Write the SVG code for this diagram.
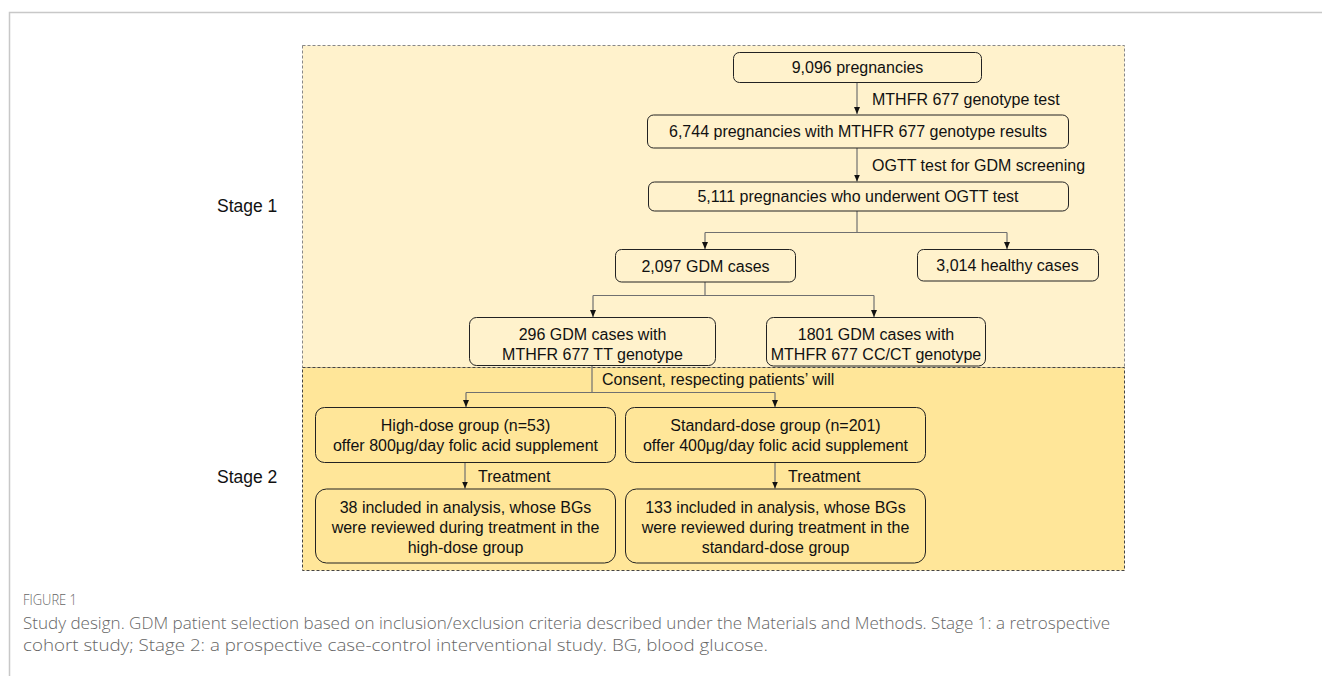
<svg xmlns="http://www.w3.org/2000/svg" width="1322" height="676" viewBox="0 0 1322 676">
<style>
.t{font-family:"Liberation Sans",Arial,sans-serif;font-size:16px;fill:#111;}
.c{text-anchor:middle;}
.lbl{font-family:"Liberation Sans",Arial,sans-serif;font-size:16px;fill:#111;}
.stage{font-family:"Liberation Sans",Arial,sans-serif;font-size:17.5px;fill:#111;}
.n1{fill:#fff2cc;stroke:#222;stroke-width:1;}
.n2{fill:#ffe699;stroke:#222;stroke-width:1;}
.ln{fill:none;stroke:#707070;stroke-width:1.2;}
.cap{font-family:"Open Sans",Lato,sans-serif;font-weight:300;fill:#666;}
</style>
<defs>
<marker id="ah" markerUnits="userSpaceOnUse" markerWidth="8" markerHeight="8" refX="7" refY="4" orient="auto">
<path d="M0,1 L7,4 L0,7 Z" fill="#111"/>
</marker>
</defs>
<rect width="1322" height="676" fill="#fff"/>
<path d="M9.5,676 V12.5 H1322" fill="none" stroke="#c8c8c8" stroke-width="1.5"/>
<g id="stage1-area">
<rect x="302.5" y="45.5" width="822" height="322" fill="#fff2cc" stroke="#888" stroke-width="1" stroke-dasharray="3,2"/>
</g>
<g id="stage2-area">
<rect x="302.5" y="367.5" width="822" height="203" fill="#ffe699" stroke="#444" stroke-width="1" stroke-dasharray="3,2"/>
</g>
<text class="stage" x="217" y="212">Stage 1</text>
<text class="stage" x="217" y="483">Stage 2</text>
<g id="connectors">
<path class="ln" d="M857,82 V114" marker-end="url(#ah)"/>
<path class="ln" d="M857,148 V181.5" marker-end="url(#ah)"/>
<path class="ln" d="M857,211 V232.5"/>
<path class="ln" d="M705,232.5 H1007"/>
<path class="ln" d="M705,232.5 V249" marker-end="url(#ah)"/>
<path class="ln" d="M1007,232.5 V249" marker-end="url(#ah)"/>
<path class="ln" d="M705,282 V295.5"/>
<path class="ln" d="M593,295.5 H874"/>
<path class="ln" d="M593,295.5 V317" marker-end="url(#ah)"/>
<path class="ln" d="M874,295.5 V317" marker-end="url(#ah)"/>
<path class="ln" d="M592,365 V392.5"/>
<path class="ln" d="M466,392.5 H775"/>
<path class="ln" d="M466,392.5 V407" marker-end="url(#ah)"/>
<path class="ln" d="M775,392.5 V407" marker-end="url(#ah)"/>
<path class="ln" d="M465,462 V488.5" marker-end="url(#ah)"/>
<path class="ln" d="M775,462 V488.5" marker-end="url(#ah)"/>
<text class="lbl" x="872" y="104.5">MTHFR 677 genotype test</text>
<text class="lbl" x="872" y="170.5">OGTT test for GDM screening</text>
<text class="lbl" x="602" y="385">Consent, respecting patients’ will</text>
<text class="lbl" x="478" y="482">Treatment</text>
<text class="lbl" x="788" y="482">Treatment</text>
</g>
<g id="n9096">
<rect class="n1" x="733.5" y="52.5" width="248" height="30" rx="6"/>
<text class="t c" x="857.5" y="73">9,096 pregnancies</text>
</g>
<g id="n6744">
<rect class="n1" x="647.5" y="115" width="421" height="33" rx="6"/>
<text class="t c" x="858" y="137">6,744 pregnancies with MTHFR 677 genotype results</text>
</g>
<g id="n5111">
<rect class="n1" x="648.5" y="182" width="420" height="29" rx="6"/>
<text class="t c" x="858" y="202">5,111 pregnancies who underwent OGTT test</text>
</g>
<g id="n2097">
<rect class="n1" x="615.5" y="249.5" width="180" height="32.5" rx="6"/>
<text class="t c" x="705.5" y="271.5">2,097 GDM cases</text>
</g>
<g id="n3014">
<rect class="n1" x="917.5" y="249.5" width="181" height="31.5" rx="6"/>
<text class="t c" x="1007.5" y="271">3,014 healthy cases</text>
</g>
<g id="n296">
<rect class="n1" x="469.5" y="317.5" width="246" height="48" rx="7"/>
<text class="t c" x="592.5" y="340">296 GDM cases with</text>
<text class="t c" x="592.5" y="360">MTHFR 677 TT genotype</text>
</g>
<g id="n1801">
<rect class="n1" x="766.5" y="317.5" width="219" height="48.5" rx="7"/>
<text class="t c" x="876" y="340">1801 GDM cases with</text>
<text class="t c" x="876" y="360">MTHFR 677 CC/CT genotype</text>
</g>
<g id="nhigh">
<rect class="n2" x="315.5" y="407.5" width="300" height="55" rx="9"/>
<text class="t c" x="465.5" y="431">High-dose group (n=53)</text>
<text class="t c" x="465.5" y="451">offer 800μg/day folic acid supplement</text>
</g>
<g id="nstd">
<rect class="n2" x="625.5" y="407.5" width="300" height="55" rx="9"/>
<text class="t c" x="775.5" y="431">Standard-dose group (n=201)</text>
<text class="t c" x="775.5" y="451">offer 400μg/day folic acid supplement</text>
</g>
<g id="n38">
<rect class="n2" x="315.5" y="489" width="300" height="74" rx="11"/>
<text class="t c" x="465.5" y="513">38 included in analysis, whose BGs</text>
<text class="t c" x="465.5" y="533">were reviewed during treatment in the</text>
<text class="t c" x="465.5" y="553">high-dose group</text>
</g>
<g id="n133">
<rect class="n2" x="625.5" y="489" width="300" height="74" rx="11"/>
<text class="t c" x="775.5" y="513">133 included in analysis, whose BGs</text>
<text class="t c" x="775.5" y="533">were reviewed during treatment in the</text>
<text class="t c" x="775.5" y="553">standard-dose group</text>
</g>
<text class="cap" x="23" y="605" font-size="14.5" font-weight="400" fill="#555" textLength="54" lengthAdjust="spacingAndGlyphs">FIGURE 1</text>
<text class="cap" x="23" y="629" font-size="16" textLength="1087" lengthAdjust="spacingAndGlyphs">Study design. GDM patient selection based on inclusion/exclusion criteria described under the Materials and Methods. Stage 1: a retrospective</text>
<text class="cap" x="23" y="651" font-size="16" textLength="745" lengthAdjust="spacingAndGlyphs">cohort study; Stage 2: a prospective case-control interventional study. BG, blood glucose.</text>
</svg>
